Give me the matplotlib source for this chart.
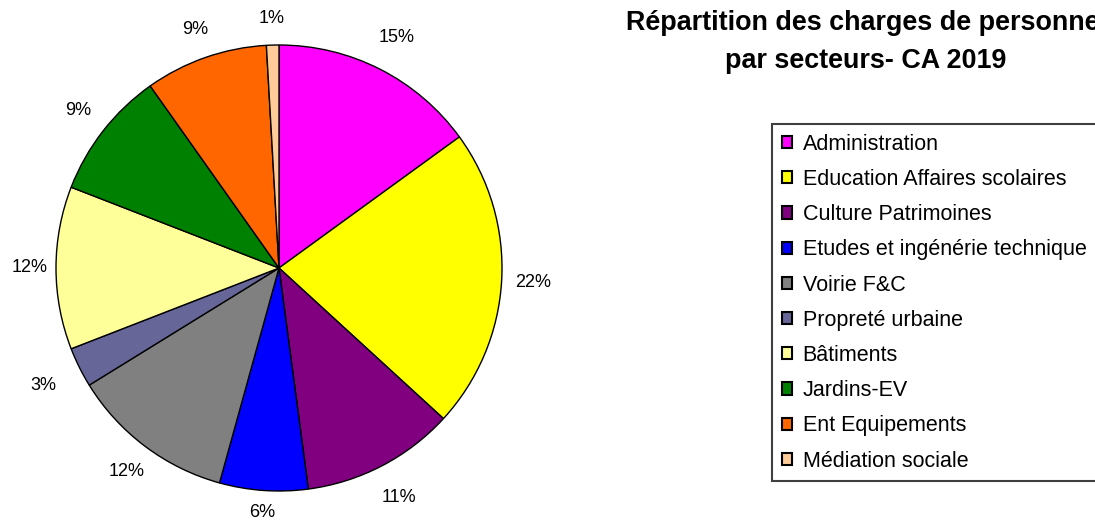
import numpy as np
import matplotlib.pyplot as plt

plt.rcParams['font.family'] = ['Liberation Sans', 'DejaVu Sans']

# data (share of staff costs, %)
secteurs = ["Administration", "Education Affaires scolaires", "Culture Patrimoines",
            "Etudes et ingénérie technique", "Voirie F&C", "Propreté urbaine",
            "Bâtiments", "Jardins-EV", "Ent Equipements", "Médiation sociale"]
parts = [15.0, 21.8, 11.1, 6.4, 11.9, 2.9, 11.8, 9.3, 8.9, 0.9]
couleurs = ['#FF00FF', '#FFFF00', '#800080', '#0000FF', '#808080',
            '#666699', '#FFFF99', '#008000', '#FF6600', '#FFCC99']
# distance of each % label from the centre (in radii), as Excel placed them
dist_labels = [1.16, 1.14, 1.16, 1.10, 1.14, 1.18, 1.12, 1.145, 1.135, 1.12]

fig = plt.figure(figsize=(10.95, 5.22), dpi=100)

# pie axes: centre ~ (279, 268) px, radius ~223 px
ax = fig.add_axes([56 / 1095, 31 / 522, 446 / 1095, 446 / 522])
wedges, texts = ax.pie(
    parts, colors=couleurs, startangle=90, counterclock=False,
    wedgeprops=dict(edgecolor='black', linewidth=1.0))
ax.set_xlim(-1, 1)
ax.set_ylim(-1, 1)
ax.set_aspect('equal')

total = sum(parts)
for w, v, d in zip(wedges, parts, dist_labels):
    mid = np.deg2rad((w.theta1 + w.theta2) / 2)
    ax.text(d * np.cos(mid), d * np.sin(mid), f'{v / total * 100:.0f}%',
            ha='center', va='center', fontsize=13, clip_on=False)

# title is cut at the right edge, as in the original
fig.text(866 / 1095, 1 - 42 / 522,
         "Répartition des charges de personnel\npar secteurs- CA 2019",
         ha='center', va='center', fontsize=19.4, fontweight='bold',
         linespacing=1.62)

# legend box runs past the right edge of the image, as in the original
leg = fig.legend(wedges, secteurs, loc='upper left', mode='expand',
                 bbox_to_anchor=(772 / 1095, 1 - 124 / 522, 340 / 1095, 0),
                 borderaxespad=0, fontsize=15.5, frameon=True, fancybox=False,
                 edgecolor='#404040', framealpha=1,
                 handlelength=0.5, handleheight=0.5, handletextpad=0.47,
                 labelspacing=0.66, borderpad=0.45)
leg.get_frame().set_linewidth(1.5)
for h in leg.legend_handles:
    h.set_linewidth(1.5)

fig.savefig('out.png', dpi=100)
